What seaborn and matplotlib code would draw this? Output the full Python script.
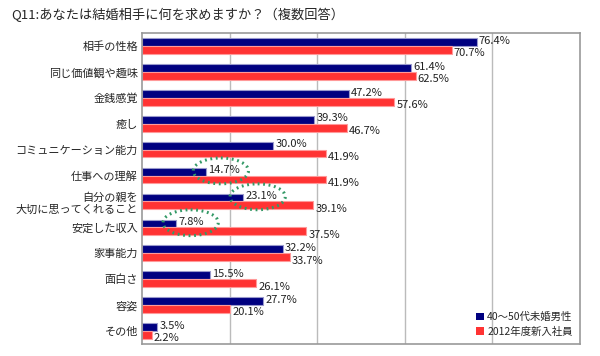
import pandas as pd
import numpy as np
import matplotlib
matplotlib.use("Agg")
import matplotlib.pyplot as plt
import seaborn as sns
from matplotlib.patches import Ellipse

# chart data
categories = ["相手の性格", "同じ価値観や趣味", "金銭感覚", "癒し", "コミュニケーション能力",
              "仕事への理解", "自分の親を\n大切に思ってくれること", "安定した収入", "家事能力",
              "面白さ", "容姿", "その他"]
men_40_50 = [76.4, 61.4, 47.2, 39.3, 30.0, 14.7, 23.1, 7.8, 32.2, 15.5, 27.7, 3.5]
new_hires_2012 = [70.7, 62.5, 57.6, 46.7, 41.9, 41.9, 39.1, 37.5, 33.7, 26.1, 20.1, 2.2]
groups = ["40～50代未婚男性", "2012年度新入社員"]
highlighted = ["仕事への理解", "自分の親を\n大切に思ってくれること", "安定した収入"]

df = pd.DataFrame({
    "item": categories * 2,
    "value": men_40_50 + new_hires_2012,
    "group": [groups[0]] * len(categories) + [groups[1]] * len(categories),
})

sns.set_style("white")
plt.rcParams['font.family'] = ['Noto Sans CJK JP', 'DejaVu Sans']

fig = plt.figure(figsize=(6, 3.56), dpi=100)
ax = fig.add_axes([0.2367, 0.034, 0.73, 0.873])

colors = {"40～50代未婚男性": "#000080", "2012年度新入社員": "#FF3333"}
edges = {"40～50代未婚男性": "#9999CC", "2012年度新入社員": "#FF9999"}
sns.barplot(data=df, y="item", x="value", hue="group", hue_order=groups,
            order=categories, palette=colors, orient="h", width=0.6, gap=0,
            saturation=1, ax=ax, legend=True)

# value labels: navy ones nudged up a bit, red ones down
nudge = [1.0, -2.5]
for cont, g, dy in zip(ax.containers, groups, nudge):
    for p in cont:
        p.set_edgecolor(edges[g])
        p.set_linewidth(0.8)
    labs = ax.bar_label(cont, labels=[f"{v:.1f}%" for v in cont.datavalues],
                        padding=1.5, fontsize=8, color="#222222")
    for t in labs:
        t.xyann = (1.5, dy)

ax.set_xlim(0, 100)
ax.set_xticks([20, 40, 60, 80])
ax.set_xticklabels([])
ax.grid(axis="x", color="#BBBBBB", lw=1)
ax.set_axisbelow(True)
ax.tick_params(axis="both", length=0)
ax.tick_params(axis="y", labelsize=8, pad=3)
ax.set_xlabel("")
ax.set_ylabel("")
for s in ax.spines.values():
    s.set_color("#999999")
    s.set_linewidth(1.2)

# green dotted circles round some labels
for name in highlighted:
    i = categories.index(name)
    v = men_40_50[i]
    ax.add_patch(Ellipse((v + 3.3, i - 0.18), 12.6, 1.0, fill=False,
                         edgecolor="#339966", lw=2.2, linestyle=(0, (0.6, 1.2)),
                         zorder=5))

leg = ax.legend(loc="lower right", frameon=False, fontsize=7.5,
                handlelength=0.75, handleheight=0.75, handletextpad=0.35,
                labelspacing=0.4, borderaxespad=0.3)
for h in leg.legend_handles:
    h.set_edgecolor("none")

fig.text(0.018, 0.958, "Q11:あなたは結婚相手に何を求めますか？（複数回答）",
         fontsize=9.5, va="center", ha="left")

fig.savefig("out.png", dpi=100)
